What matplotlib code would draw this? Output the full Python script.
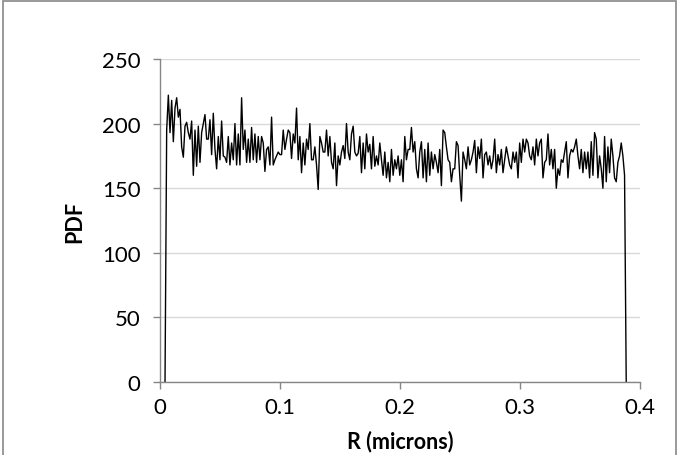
import numpy as np
import matplotlib.pyplot as plt
from matplotlib.patches import Rectangle

# PDF values, left to right (first and last are the drops to 0)
pdf = [0, 195, 222, 193, 218, 186, 212, 220, 205, 211, 182, 174, 198, 201, 193, 188,
       202, 160, 195, 167, 198, 170, 193, 200, 207, 188, 188, 203, 176, 208, 180, 165, 190, 172,
       202, 175, 174, 170, 190, 168, 185, 172, 200, 168, 192, 168, 220, 180, 195, 170,
       188, 170, 197, 172, 192, 170, 190, 172, 190, 185, 163, 180, 182, 168, 205, 168, 172, 175, 178,
       176, 176, 195, 180, 188, 195, 193, 173, 192, 185, 212, 172, 190, 162, 185, 168,
       188, 180, 200, 172, 172, 182, 168, 149, 190, 185, 178, 178, 195, 175, 190, 170, 165,
       185, 152, 175, 168, 178, 183, 173, 200, 178, 172, 192, 198, 178, 175,
       177, 190, 162, 185, 165, 192, 178, 184, 165, 190, 167, 175, 168, 185, 172, 160,
       178, 158, 170, 155, 180, 160, 172, 165, 175, 160, 172, 155, 190, 172, 180, 180,
       197, 178, 186, 165, 158, 178, 186, 158, 180, 155, 185, 160, 178, 165, 176,
       170, 162, 180, 152, 195, 193, 182, 172, 170, 155, 165, 165, 186, 183,
       160, 140, 178, 172, 165, 182, 168, 172, 178, 187, 162, 182, 173, 188,
       158, 176, 178, 168, 175, 165, 172, 188, 162, 176, 168, 180, 162, 172,
       182, 175, 168, 165, 178, 170, 178, 158, 185, 170, 188, 178, 188, 185,
       175, 172, 182, 168, 188, 175, 185, 188, 158, 170, 172, 192, 168, 180,
       165, 180, 150, 165, 160, 172, 170, 178, 186, 158, 175, 180, 178, 182,
       188, 175, 165, 180, 162, 178, 165, 178, 158, 186, 160, 193, 188, 158,
       175, 165, 150, 190, 155, 182, 162, 188, 175, 158, 155, 170, 175, 185,
       175, 160, 0]
r_first = 0.0042
r_last = 0.3885
r = np.linspace(r_first, r_last, len(pdf))

xticks = [0, 0.1, 0.2, 0.3, 0.4]
yticks = [0, 50, 100, 150, 200, 250]

plt.rcParams['font.family'] = ['Lato', 'DejaVu Sans']

fig = plt.figure(figsize=(6.79, 4.56), dpi=100)
ax = fig.add_axes([0.2356, 0.1601, 0.7070, 0.7083])

ax.plot(r, pdf, color='black', lw=1.0)

ax.set_xlim(0, 0.4)
ax.set_ylim(0, 250)
ax.set_xticks(xticks)
ax.set_xticklabels(['0', '0.1', '0.2', '0.3', '0.4'])
ax.set_yticks(yticks)
ax.yaxis.grid(True, color='#d9d9d9', lw=1.0)
ax.set_axisbelow(True)

for side in ['top', 'right']:
    ax.spines[side].set_visible(False)
for side in ['left', 'bottom']:
    ax.spines[side].set_color('#868686')
    ax.spines[side].set_linewidth(1.0)
ax.tick_params(axis='both', direction='out', length=5, width=1.0,
               color='#868686', labelsize=16, labelcolor='black')
ax.tick_params(axis='x', pad=6)
ax.tick_params(axis='y', pad=9)

ax.set_xlabel('R (microns)', fontsize=15.5, fontweight='bold', labelpad=9)
ax.set_ylabel('PDF', fontsize=15.5, fontweight='bold', labelpad=12)

# outer chart border
fig.patches.append(Rectangle((0.004, -0.01), 0.992, 1.005, transform=fig.transFigure,
                             fill=False, edgecolor='#878787', lw=1.2))

fig.savefig('out.png', dpi=100)
